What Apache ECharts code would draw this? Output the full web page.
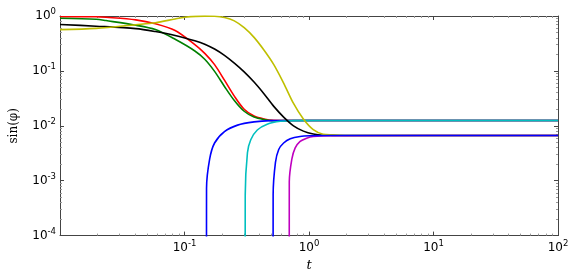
<!DOCTYPE html>
<html><head><meta charset="utf-8">
<script src="https://cdn.jsdelivr.net/npm/echarts@6/dist/echarts.min.js"></script>
<style>html,body{margin:0;padding:0;background:#fff}#c{width:582px;height:277px}</style>
</head><body><div id="c"></div>
<script>
// t, sin(phi) pairs
const red = [[0.01,0.972],[0.0195,0.97],[0.0234,0.948],[0.0406,0.85],[0.0584,0.722],[0.0841,0.543],[0.1211,0.3005],[0.1454,0.2083],[0.1744,0.130],[0.2094,0.0679],[0.2513,0.0347],[0.3015,0.020],[0.3619,0.01503],[0.4344,0.0133],[0.5214,0.0126],[0.75,0.0125],[100,0.0125]];
const green = [[0.01,0.911],[0.0195,0.874],[0.0234,0.826],[0.0406,0.68],[0.0584,0.565],[0.0841,0.376],[0.1211,0.2306],[0.1454,0.163],[0.1744,0.098],[0.2094,0.0521],[0.2513,0.0289],[0.3015,0.0184],[0.3619,0.01443],[0.4344,0.013],[0.5214,0.01235],[0.75,0.0125],[100,0.0125]];
const black = [[0.01,0.702],[0.0195,0.652],[0.0406,0.589],[0.0584,0.521],[0.0841,0.443],[0.1211,0.354],[0.1454,0.307],[0.1744,0.250],[0.2094,0.192],[0.2513,0.1386],[0.3015,0.096],[0.3619,0.0626],[0.4344,0.0384],[0.5214,0.0226],[0.6255,0.01443],[0.751,0.0100],[0.901,0.0080],[1.082,0.00707],[1.298,0.00673],[2.0,0.00665],[100,0.00665]];
const yellow = [[0.01,0.565],[0.0195,0.596],[0.0406,0.693],[0.0584,0.752],[0.0841,0.885],[0.1006,0.95],[0.1454,0.995],[0.1744,0.99],[0.2094,0.94],[0.2513,0.816],[0.3015,0.613],[0.3619,0.408],[0.4344,0.240],[0.5214,0.130],[0.6255,0.060],[0.751,0.0255],[0.901,0.0133],[1.082,0.0085],[1.298,0.00702],[1.558,0.00684],[2.0,0.00666],[100,0.00665]];
const blueA = [[0.15,1e-6],[0.1502,0.0001],[0.1503,0.00073],[0.1592,0.00247],[0.1744,0.00486],[0.2094,0.00783],[0.2669,0.01029],[0.3619,0.01177],[0.491,0.01241],[0.75,0.0125],[100,0.0125]];
const cyan = [[0.3071,1e-6],[0.3073,0.0001],[0.3075,0.000554],[0.3203,0.00323],[0.3406,0.00558],[0.3843,0.00839],[0.4614,0.01072],[0.589,0.01212],[0.751,0.01241],[1.2,0.0125],[100,0.0125]];
const blueB = [[0.5148,1e-6],[0.515,0.0001],[0.5152,0.000554],[0.5377,0.00215],[0.5711,0.00371],[0.6255,0.00486],[0.7071,0.00581],[0.8486,0.00639],[1.018,0.00657],[1.5,0.00665],[100,0.00665]];
const magenta = [[0.694,1e-6],[0.6942,0.0001],[0.6945,0.000952],[0.728,0.00247],[0.7746,0.00396],[0.8486,0.00521],[0.957,0.00596],[1.082,0.00639],[1.5,0.0066],[100,0.00665]];

const xTickLabels = [0.1, 1, 10, 100];
const yTickLabels = [1e-4, 1e-3, 1e-2, 1e-1, 1];
const xMinor = [], yMinor = [];
[0.01,0.1,1,10].forEach(d=>{for(let k=2;k<=9;k++) xMinor.push(d*k);});
[1e-4,1e-3,1e-2,1e-1].forEach(d=>{for(let k=2;k<=9;k++) yMinor.push(d*k);});

const fmt = v => {
  const e = Math.round(Math.log10(v));
  return '{b|10}{s|' + (e < 0 ? '-' + (-e) : e) + '}';
};
const rich = {
  b:{fontFamily:'DejaVu Sans',fontSize:12,color:'#000',lineHeight:17},
  s:{fontFamily:'DejaVu Sans',fontSize:8.5,color:'#000',lineHeight:10,verticalAlign:'top'}
};
const X0 = 0.01, X1 = 100, Y0 = 1e-4, Y1 = 1;
const lineC = '#444';
function xAx(pos, minor, show){
  return {type:'log',logBase:10,min:X0,max:X1,position:pos,
    axisLine:{show:show,lineStyle:{color:lineC,width:1}},
    splitLine:{show:false},
    axisTick:{show:true,inside:true,length:minor?2:4,customValues:minor?xMinor:xTickLabels,lineStyle:{color:minor?'#999':lineC,width:1}},
    axisLabel:{show:(pos==='bottom'&&!minor),customValues:xTickLabels,formatter:fmt,rich:rich,margin:4,hideOverlap:false,showMinLabel:true,showMaxLabel:true},
    name:(pos==='bottom'&&!minor)?'t':'',nameLocation:'middle',nameGap:16,
    nameTextStyle:{fontFamily:'DejaVu Serif',fontStyle:'italic',fontSize:13,color:'#000'}};
}
function yAx(pos, minor, show){
  return {type:'log',logBase:10,min:Y0,max:Y1,position:pos,
    axisLine:{show:show,lineStyle:{color:lineC,width:1}},
    splitLine:{show:false},
    axisTick:{show:true,inside:true,length:minor?2:4,customValues:minor?yMinor:yTickLabels,lineStyle:{color:minor?'#999':lineC,width:1}},
    axisLabel:{show:(pos==='left'&&!minor),customValues:yTickLabels,formatter:fmt,rich:rich,margin:4,hideOverlap:false,showMinLabel:true,showMaxLabel:true},
    name:(pos==='left'&&!minor)?'sin(φ)':'',nameLocation:'middle',nameGap:40,nameRotate:90,
    nameTextStyle:{fontFamily:'DejaVu Serif',fontSize:12,color:'#000'}};
}
function ser(data,color,z){
  return {type:'line',data:data,xAxisIndex:0,yAxisIndex:0,showSymbol:false,symbol:'none',
    smooth:0.3,clip:true,z:z,animation:false,
    lineStyle:{color:color,width:1.6}};
}
const chart = echarts.init(document.getElementById('c'),null,{renderer:'canvas'});
chart.setOption({
  animation:false,
  backgroundColor:'#fff',
  grid:{left:53,right:24,top:16,bottom:35,containLabel:false},
  xAxis:[xAx('bottom',false,true),xAx('bottom',true,false),xAx('top',false,true),xAx('top',true,false)],
  yAxis:[yAx('left',false,true),yAx('left',true,false),yAx('right',false,true),yAx('right',true,false)],
  series:[
    ser(red,'#ff0000',2),
    ser(green,'#008000',3),
    ser(blueA,'#0000ff',4),
    ser(cyan,'#00bfbf',5),
    ser(black,'#000000',6),
    ser(yellow,'#bfbf00',7),
    ser(magenta,'#bf00bf',8),
    ser(blueB,'#0000ff',9)
  ]
});
</script></body></html>
